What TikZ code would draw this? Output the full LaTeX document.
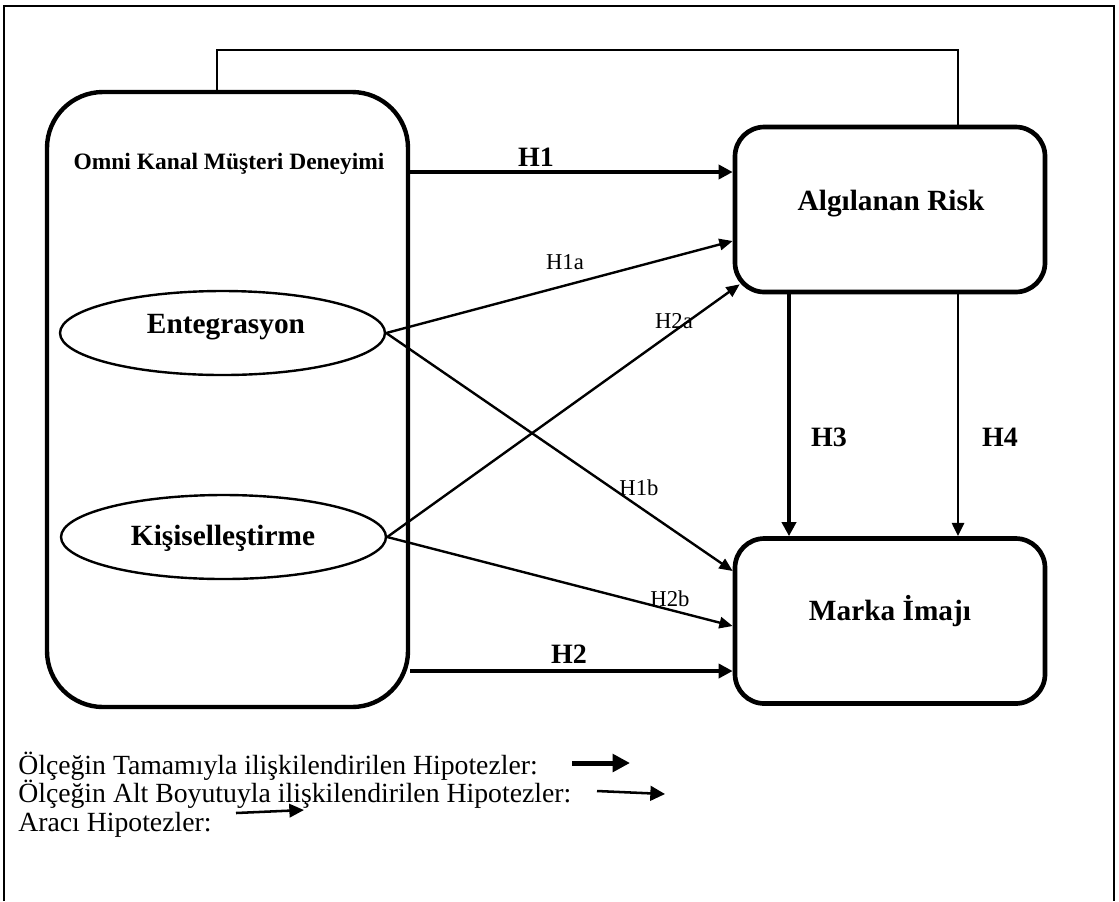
\documentclass[tikz,border=0pt]{standalone}
\usepackage{fontspec}
\setmainfont{Liberation Serif}
\usetikzlibrary{arrows.meta,shapes.geometric,calc}
\begin{document}
\begin{tikzpicture}[x=0.75pt,y=-0.75pt,
  frame/.style={line width=1.6pt},
  bigbox/.style={draw,line width=3.3pt,rounded corners=42pt,minimum width=270.75pt,minimum height=461.25pt,inner sep=0pt},
  varbox/.style={draw,line width=3.5pt,rounded corners=22pt,minimum width=232.5pt,minimum height=123.75pt,inner sep=0pt},
  dimell/.style={draw,ellipse,line width=1.8pt,inner sep=0pt,minimum width=243.75pt,minimum height=63pt},
  nodetxt/.style={font=\fontsize{22}{26}\selectfont\bfseries,anchor=base,inner sep=0pt},
  titletxt/.style={font=\fontsize{17.6}{21}\selectfont\bfseries,anchor=base,inner sep=0pt},
  hbold/.style={font=\fontsize{21}{25}\selectfont\bfseries,anchor=base,inner sep=0pt},
  hreg/.style={font=\fontsize{17}{20}\selectfont,anchor=base,inner sep=0pt},
  legtxt/.style={font=\fontsize{20.8}{24}\selectfont,anchor=base west,inner sep=0pt},
  mainarr/.style={line width=3pt,-{Triangle[length=10.5pt,width=10.5pt]}},
  subarr/.style={line width=1.8pt,-{Triangle[length=10pt,width=8.5pt]}},
  medarr/.style={line width=2.2pt,-{Triangle[length=10pt,width=9pt]}},
  link/.style={line width=1pt}
]
\useasboundingbox (0,0) rectangle (1119,901);

% outer frame, open at the bottom
\draw[frame] (4,901) -- (4,6) -- (1114,6) -- (1114,901);

% constructs
\node[bigbox] (omni) at (227.5,399.5) {};
\node[varbox] (ar) at (890,209.5) {};
\node[varbox] (mi) at (890,621) {};
\node[dimell] (ent) at (222.5,333) {};
\node[dimell] (kis) at (223.5,537) {};

\node[titletxt] (omnit) at (229,169) {Omni Kanal Müşteri Deneyimi};
\node[nodetxt] (art) at (891,210) {Algılanan Risk};
\node[nodetxt] (mit) at (890,620) {Marka İmajı};
\node[nodetxt] (entt) at (226,333) {Entegrasyon};
\node[nodetxt] (kist) at (223,545) {Kişiselleştirme};

% link over the top
\coordinate (cl) at (217,50);
\coordinate (cr) at (958,50);
\draw[link] (omni.north -| cl) -- (cl) -- (cr) -- (ar.north -| cr);

% levels of the horizontal paths
\coordinate (yH1) at (0,172);
\coordinate (yH1a) at (0,241);
\coordinate (yH1b) at (0,571);
\coordinate (yH2b) at (0,626);
\coordinate (yH2) at (0,671);
\coordinate (xH3) at (789,0);
\coordinate (xH4) at (958,0);

\draw[mainarr] (omni.east |- yH1) -- (ar.west |- yH1);
\draw[subarr] (ent.east) -- (ar.west |- yH1a);
\draw[subarr] (kis.east) -- ($(ar.south west)+(7,-10)$);
\draw[subarr] (ent.east) -- (mi.west |- yH1b);
\draw[subarr] (kis.east) -- (mi.west |- yH2b);
\draw[mainarr] (omni.east |- yH2) -- (mi.west |- yH2);
\draw[mainarr] (ar.south -| xH3) -- (mi.north -| xH3);
\draw[medarr] (ar.south -| xH4) -- (mi.north -| xH4);

% hypothesis labels
\node[hbold] (lH1) at (536,166) {H1};
\node[hreg] (lH1a) at (565,269) {H1a};
\node[hreg] (lH2a) at (674,328) {H2a};
\node[hreg] (lH1b) at (639,495) {H1b};
\node[hreg] (lH2b) at (670,606) {H2b};
\node[hbold] (lH2) at (569,663) {H2};
\node[hbold] (lH3) at (829,446) {H3};
\node[hbold] (lH4) at (1000,446) {H4};

% legend
\node[legtxt] (leg1) at (18,774) {Ölçeğin Tamamıyla ilişkilendirilen Hipotezler:};
\node[legtxt] (leg2) at (18,802) {Ölçeğin Alt Boyutuyla ilişkilendirilen Hipotezler:};
\node[legtxt] (leg3) at (18,831) {Aracı Hipotezler:};
\coordinate (a1s) at (572,763);
\coordinate (a1e) at (630,763);
\coordinate (a2s) at (597,791);
\coordinate (a2e) at (665,794);
\coordinate (a3s) at (236,813);
\coordinate (a3e) at (304,810);
\draw[line width=3.75pt,-{Triangle[length=13pt,width=13pt]}] (a1s) -- (a1e);
\draw[line width=1.9pt,-{Triangle[length=11pt,width=11pt]}] (a2s) -- (a2e);
\draw[line width=1.9pt,-{Triangle[length=11pt,width=10pt]}] (a3s) -- (a3e);
\end{tikzpicture}
\end{document}
